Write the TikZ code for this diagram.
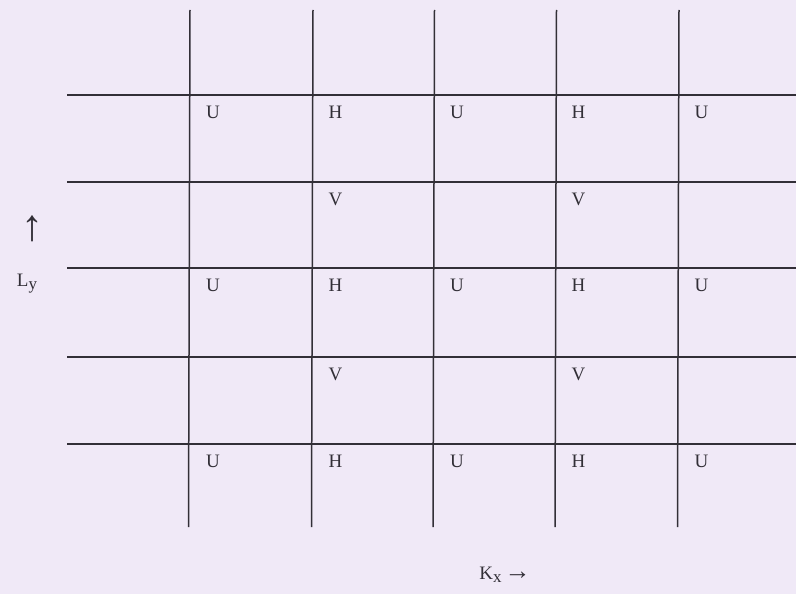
\documentclass[tikz,border=0pt]{standalone}
\usepackage{fontspec}
\setmainfont{Liberation Serif}
\definecolor{bgc}{RGB}{240,233,247}
\definecolor{ink}{RGB}{50,47,55}
\begin{document}
\begin{tikzpicture}[x=1pt,y=-1pt,
  gridline/.style={draw=ink,line width=1.5pt},
  lbl/.style={text=ink,font=\fontsize{19}{21}\selectfont,inner sep=0pt,anchor=center},
  axislbl/.style={text=ink,font=\fontsize{19}{21}\selectfont,inner sep=0pt}]
\fill[bgc] (0,0) rectangle (796,594);
\useasboundingbox (0,0) rectangle (796,594);
% vertical lines
\foreach \x in {190,313,434.5,556.5,679}
  \draw[gridline] (\x,10) -- (\x-1.5,527);
% horizontal lines
\foreach \y in {95,182,268,357,444}
  \draw[gridline] (67,\y) -- (796,\y);
% U/H rows
\foreach \y [count=\r] in {95,268,444} {
  \node[lbl] (u1r\r) at (213,\y+17.5) {U};
  \node[lbl] (h2r\r) at (335.5,\y+17.5) {H};
  \node[lbl] (u3r\r) at (457,\y+17.5) {U};
  \node[lbl] (h4r\r) at (578.5,\y+17.5) {H};
  \node[lbl] (u5r\r) at (701.5,\y+17.5) {U};
}
% V rows
\foreach \y [count=\r] in {182,357} {
  \node[lbl] (v2r\r) at (335.5,\y+17.5) {V};
  \node[lbl] (v4r\r) at (578.5,\y+17.5) {V};
}
% axis labels
\node[axislbl,font=\fontsize{44}{46}\selectfont] (uparrow) at (32,229) {↑};
\node[axislbl] (ly) at (27,284) {L\raisebox{-0.35ex}{\fontsize{17}{19}\selectfont y}};
\node[axislbl] (kx) at (505,575) {K\raisebox{-0.4ex}{\fontsize{17}{19}\selectfont x}\,{\fontsize{26}{28}\selectfont →}};
\end{tikzpicture}
\end{document}
